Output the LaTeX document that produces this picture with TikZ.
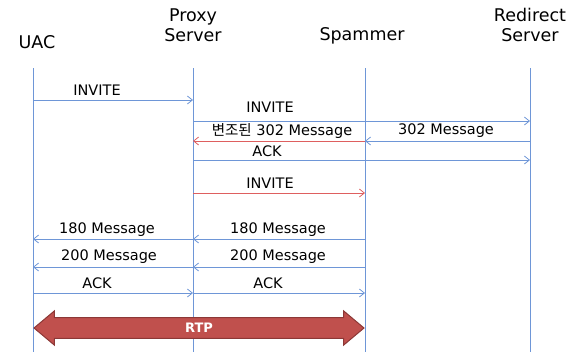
\documentclass[tikz,border=0pt]{standalone}
\usepackage{fontspec}
\setmainfont{DejaVu Sans}
\newfontfamily\krfont{Noto Sans CJK KR}
\usetikzlibrary{arrows.meta,shapes.arrows}
\definecolor{lineblue}{RGB}{110,150,215}
\definecolor{msgred}{RGB}{222,95,95}
\definecolor{rtpfill}{RGB}{192,80,77}
\definecolor{rtpedge}{RGB}{140,56,54}
\tikzset{
  title/.style={font=\fontsize{17.5}{20}\selectfont, text=black, align=center, inner sep=0pt},
  lbl/.style={font=\fontsize{14.5}{16}\selectfont, text=black, inner sep=0pt},
  life/.style={draw=lineblue, line width=0.9pt},
  msg/.style={draw=lineblue, line width=0.8pt, -{Straight Barb[length=5pt,width=8pt]}},
  rmsg/.style={draw=msgred, line width=0.8pt, -{Straight Barb[length=5pt,width=8pt]}},
}
\begin{document}
\begin{tikzpicture}[x=1pt,y=-1pt]
\useasboundingbox (0,0) rectangle (579,354);
% titles
\node[title] (tuac) at (37,42) {UAC};
\node[title] (tproxy) at (193,25) {Proxy\\Server};
\node[title] (tspam) at (362,36) {Spammer};
\node[title] (tred) at (530,25) {Redirect\\Server};
% lifelines
\coordinate (uac) at (33,68);   \coordinate (uacb) at (33,352);
\coordinate (proxy) at (193,68); \coordinate (proxyb) at (193,352);
\coordinate (spam) at (365,68);  \coordinate (spamb) at (365,352);
\coordinate (red) at (530,68);   \coordinate (redb) at (530,352);
\draw[life] (uac) -- (uacb);
\draw[life] (proxy) -- (proxyb);
\draw[life] (spam) -- (spamb);
\draw[life] (red) -- (redb);
% messages
\draw[msg] (uac |- 0,100) -- (proxy |- 0,100);
\node[lbl] (l1) at (97,90) {INVITE};
\draw[msg] (proxy |- 0,121) -- (red |- 0,121);
\node[lbl] (l2) at (270,107) {INVITE};
\draw[rmsg] (spam |- 0,141) -- (proxy |- 0,141);
\node[lbl] (l3) at (282,131) {{\krfont 변조된} 302 Message};
\draw[msg] (red |- 0,141) -- (spam |- 0,141);
\node[lbl] (l4) at (446,131) {302 Message};
\draw[msg] (proxy |- 0,160) -- (red |- 0,160);
\node[lbl] (l5) at (267,151) {ACK};
\draw[rmsg] (proxy |- 0,193) -- (spam |- 0,193);
\node[lbl] (l6) at (270,183) {INVITE};
\draw[msg] (proxy |- 0,239) -- (uac |- 0,239);
\node[lbl] (l7) at (107,230) {180 Message};
\draw[msg] (spam |- 0,239) -- (proxy |- 0,239);
\node[lbl] (l8) at (278,230) {180 Message};
\draw[msg] (proxy |- 0,267) -- (uac |- 0,267);
\node[lbl] (l9) at (109,257) {200 Message};
\draw[msg] (spam |- 0,267) -- (proxy |- 0,267);
\node[lbl] (l10) at (278,257) {200 Message};
\draw[msg] (uac |- 0,293) -- (proxy |- 0,293);
\node[lbl] (l11) at (97,283) {ACK};
\draw[msg] (proxy |- 0,293) -- (spam |- 0,293);
\node[lbl] (l12) at (268,283) {ACK};
% RTP
\node[double arrow, draw=rtpedge, fill=rtpfill, line width=1pt,
      minimum width=34pt, double arrow head extend=4.5pt,
      double arrow tip angle=80, minimum height=330pt, inner sep=2pt,
      text=white, font=\fontsize{13}{15}\selectfont\bfseries] (rtp) at (199,328) {RTP};
\end{tikzpicture}
\end{document}
